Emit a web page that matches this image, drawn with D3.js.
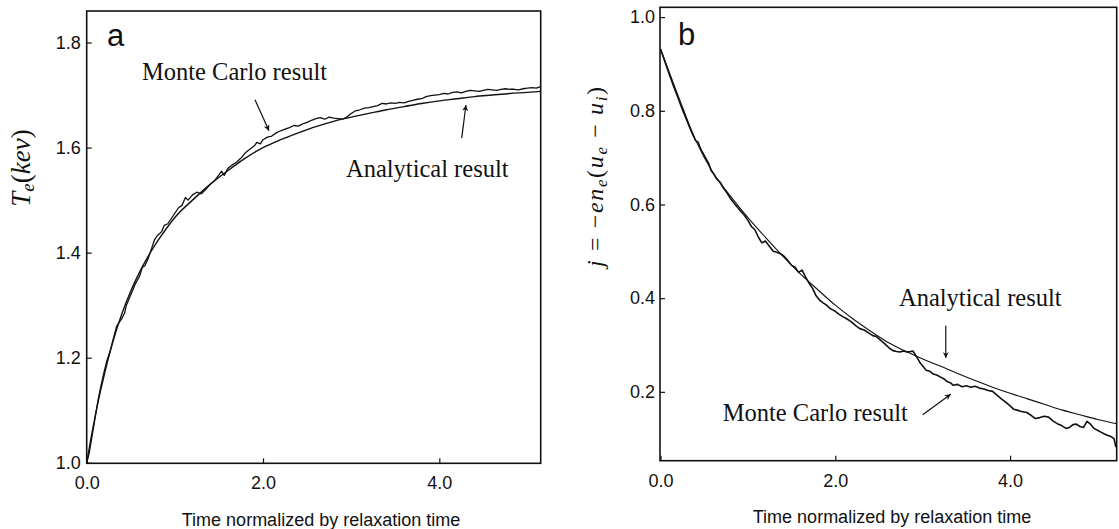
<!DOCTYPE html>
<html>
<head>
    <title>Monte Carlo vs analytical relaxation</title>
    <script src="https://d3js.org/d3.v7.min.js"></script>
    <style>
        body { margin: 0; background: #fff; }
        .frame { fill: none; stroke: #111; stroke-width: 1.6; }
        .curve { fill: none; stroke: #111; stroke-linejoin: round; }
        .tick line { stroke: #111; stroke-width: 1.2; }
        .tick text { fill: #111; font-family: "Liberation Sans", Arial, sans-serif; font-size: 18px; }
        .title { font-family: "Liberation Sans", Arial, sans-serif; font-size: 18px; fill: #111; }
        .note { font-family: "Liberation Serif", "Times New Roman", serif; font-size: 24.5px; fill: #111; }
        .math { font-family: "Liberation Serif", "Times New Roman", serif; fill: #111; }
        .panel { font-family: "Liberation Sans", Arial, sans-serif; font-size: 31px; fill: #111; }
    </style>
</head>
<body>
    <div id="chart"></div>
    <script>
        // ---- data: [time, value] ----
        const analyticA = [
            [0, 1.0], [0.05, 1.048], [0.1, 1.092], [0.15, 1.132], [0.2, 1.168], [0.3, 1.232],
            [0.4, 1.284], [0.5, 1.327], [0.6, 1.363], [0.7, 1.394], [0.8, 1.421], [0.9, 1.445],
            [1.0, 1.467], [1.2, 1.50], [1.4, 1.53], [1.6, 1.556], [1.8, 1.58], [2.0, 1.60],
            [2.2, 1.615], [2.4, 1.628], [2.6, 1.64], [2.8, 1.65], [3.0, 1.658], [3.2, 1.665],
            [3.4, 1.672], [3.6, 1.678], [3.8, 1.684], [4.0, 1.689], [4.2, 1.693], [4.4, 1.697],
            [4.6, 1.70], [4.8, 1.703], [5.0, 1.705], [5.15, 1.707]
        ];
        const monteCarloA = [
            [0, 1.0], [0.03, 1.02], [0.06, 1.05], [0.1, 1.09], [0.13, 1.12], [0.16, 1.145],
            [0.2, 1.175], [0.23, 1.195], [0.27, 1.215], [0.3, 1.235], [0.34, 1.26], [0.38, 1.27],
            [0.4, 1.275], [0.43, 1.285], [0.45, 1.30], [0.5, 1.32], [0.55, 1.34], [0.6, 1.355],
            [0.63, 1.372], [0.66, 1.375], [0.7, 1.39], [0.74, 1.41], [0.77, 1.425], [0.8, 1.432],
            [0.85, 1.44], [0.88, 1.452], [0.92, 1.455], [0.96, 1.465], [1.0, 1.475], [1.04, 1.485],
            [1.08, 1.49], [1.12, 1.505], [1.15, 1.50], [1.2, 1.51], [1.25, 1.515], [1.3, 1.512],
            [1.35, 1.52], [1.4, 1.53], [1.45, 1.537], [1.5, 1.548], [1.53, 1.555], [1.56, 1.547],
            [1.6, 1.56], [1.65, 1.567], [1.7, 1.572], [1.75, 1.58], [1.8, 1.59], [1.85, 1.597],
            [1.9, 1.603], [1.93, 1.61], [1.97, 1.607], [2.0, 1.615], [2.05, 1.62], [2.1, 1.622],
            [2.15, 1.628], [2.2, 1.632], [2.25, 1.635], [2.3, 1.638], [2.35, 1.642], [2.4, 1.641],
            [2.45, 1.645], [2.5, 1.648], [2.55, 1.652], [2.6, 1.655], [2.65, 1.657], [2.7, 1.654],
            [2.75, 1.658], [2.8, 1.656], [2.85, 1.655], [2.9, 1.654], [2.95, 1.658], [3.0, 1.665],
            [3.05, 1.67], [3.1, 1.672], [3.15, 1.675], [3.2, 1.676], [3.3, 1.68], [3.35, 1.684],
            [3.4, 1.683], [3.45, 1.685], [3.5, 1.684], [3.55, 1.686], [3.6, 1.685], [3.65, 1.688],
            [3.7, 1.69], [3.75, 1.692], [3.8, 1.693], [3.85, 1.697], [3.9, 1.699], [3.95, 1.70],
            [4.0, 1.701], [4.05, 1.703], [4.1, 1.702], [4.15, 1.705], [4.2, 1.706], [4.25, 1.704],
            [4.3, 1.707], [4.35, 1.709], [4.4, 1.708], [4.45, 1.707], [4.5, 1.709], [4.55, 1.711],
            [4.6, 1.71], [4.65, 1.709], [4.7, 1.711], [4.75, 1.712], [4.8, 1.711], [4.85, 1.711],
            [4.9, 1.71], [4.95, 1.712], [5.0, 1.713], [5.05, 1.714], [5.1, 1.713], [5.15, 1.716]
        ];
        const analyticB = [
            [0, 0.932], [0.2, 0.833], [0.4, 0.738], [0.6, 0.668], [0.8, 0.618], [1.0, 0.572],
            [1.2, 0.53], [1.4, 0.49], [1.6, 0.452], [1.8, 0.418], [2.0, 0.385], [2.2, 0.356],
            [2.4, 0.33], [2.6, 0.306], [2.8, 0.287], [3.0, 0.27], [3.2, 0.255], [3.4, 0.239],
            [3.6, 0.224], [3.8, 0.21], [4.0, 0.197], [4.2, 0.185], [4.4, 0.173], [4.6, 0.161],
            [4.8, 0.151], [5.0, 0.141], [5.22, 0.132]
        ];
        const monteCarloB = [
            [0, 0.932], [0.05, 0.905], [0.1, 0.878], [0.15, 0.852], [0.2, 0.828], [0.25, 0.803],
            [0.3, 0.78], [0.35, 0.757], [0.4, 0.737], [0.43, 0.733], [0.46, 0.718], [0.5, 0.705],
            [0.55, 0.688], [0.58, 0.672], [0.61, 0.665], [0.64, 0.655], [0.68, 0.648], [0.72, 0.635],
            [0.76, 0.625], [0.8, 0.613], [0.84, 0.603], [0.88, 0.594], [0.92, 0.585], [0.96, 0.577],
            [1.0, 0.566], [1.04, 0.553], [1.08, 0.546], [1.12, 0.53], [1.16, 0.518], [1.2, 0.522],
            [1.25, 0.51], [1.29, 0.5], [1.33, 0.498], [1.37, 0.495], [1.41, 0.49], [1.45, 0.482],
            [1.5, 0.47], [1.54, 0.466], [1.58, 0.455], [1.62, 0.46], [1.66, 0.445], [1.7, 0.432],
            [1.74, 0.421], [1.78, 0.405], [1.82, 0.396], [1.86, 0.39], [1.9, 0.385], [1.94, 0.378],
            [1.97, 0.375], [2.0, 0.372], [2.04, 0.366], [2.09, 0.36], [2.13, 0.356], [2.18, 0.35],
            [2.23, 0.342], [2.28, 0.335], [2.33, 0.332], [2.38, 0.326], [2.43, 0.32], [2.47, 0.318],
            [2.52, 0.31], [2.57, 0.302], [2.62, 0.293], [2.66, 0.288], [2.7, 0.286], [2.74, 0.285],
            [2.78, 0.287], [2.82, 0.285], [2.86, 0.286], [2.89, 0.287], [2.93, 0.275], [2.97, 0.262],
            [3.0, 0.255], [3.04, 0.246], [3.08, 0.244], [3.12, 0.238], [3.16, 0.236], [3.2, 0.232],
            [3.24, 0.228], [3.28, 0.222], [3.32, 0.219], [3.35, 0.214], [3.4, 0.216], [3.45, 0.211],
            [3.5, 0.213], [3.55, 0.21], [3.6, 0.212], [3.65, 0.208], [3.7, 0.206], [3.75, 0.203],
            [3.8, 0.201], [3.85, 0.193], [3.9, 0.185], [3.95, 0.178], [4.0, 0.17], [4.04, 0.163],
            [4.08, 0.161], [4.13, 0.158], [4.19, 0.156], [4.24, 0.15], [4.29, 0.143], [4.34, 0.145],
            [4.39, 0.148], [4.44, 0.146], [4.49, 0.138], [4.54, 0.132], [4.59, 0.128], [4.64, 0.122],
            [4.68, 0.124], [4.72, 0.13], [4.76, 0.131], [4.8, 0.126], [4.84, 0.124], [4.88, 0.137],
            [4.92, 0.131], [4.96, 0.122], [5.0, 0.118], [5.04, 0.114], [5.08, 0.11], [5.12, 0.107],
            [5.16, 0.104], [5.19, 0.10], [5.21, 0.082]
        ];

        const xTicks = [0, 2, 4];
        const yTicksA = [1.0, 1.2, 1.4, 1.6, 1.8];
        const yTicksB = [0.2, 0.4, 0.6, 0.8, 1.0];

        // annotations, in data units: text anchor + arrow from/to
        const notesA = [
            { text: "Monte Carlo result", at: [0.627, 1.729], from: [1.909, 1.691], to: [2.068, 1.632] },
            { text: "Analytical result", at: [2.941, 1.544], from: [4.254, 1.618], to: [4.302, 1.681] }
        ];
        const notesB = [
            { text: "Analytical result", at: [2.729, 0.383], from: [3.264, 0.341], to: [3.264, 0.272] },
            { text: "Monte Carlo result", at: [0.712, 0.138], from: [3.0, 0.151], to: [3.321, 0.195] }
        ];

        const width = 1119, height = 529;
        const svg = d3.select("#chart").append("svg")
            .attr("width", width).attr("height", height);

        svg.append("defs").append("marker")
            .attr("id", "head")
            .attr("viewBox", "0 0 10 10")
            .attr("refX", 10).attr("refY", 5)
            .attr("markerWidth", 8).attr("markerHeight", 6)
            .attr("markerUnits", "userSpaceOnUse")
            .attr("orient", "auto")
            .append("path").attr("d", "M0,0 L10,5 L0,10 L3,5 Z").attr("fill", "#111");

        function panel(opt) {
            const x = d3.scaleLinear().domain(opt.xDomain).range([opt.left, opt.right]);
            const y = d3.scaleLinear().domain(opt.yDomain).range([opt.bottom, opt.top]);
            const g = svg.append("g");

            const xAxis = g.append("g")
                .attr("transform", `translate(0,${opt.bottom})`)
                .call(d3.axisBottom(x).tickValues(xTicks).tickFormat(d3.format(".1f"))
                    .tickSizeInner(-5).tickSizeOuter(0).tickPadding(opt.xPad));
            const yAxis = g.append("g")
                .attr("transform", `translate(${opt.left},0)`)
                .call(d3.axisLeft(y).tickValues(opt.yTicks).tickFormat(d3.format(".1f"))
                    .tickSizeInner(-5).tickSizeOuter(0).tickPadding(opt.yPad));
            [xAxis, yAxis].forEach(a => {
                a.attr("font-size", null).attr("font-family", null);
                a.select(".domain").remove();
            });

            const smooth = d3.line().x(d => x(d[0])).y(d => y(d[1])).curve(d3.curveMonotoneX);
            const jagged = d3.line().x(d => x(d[0])).y(d => y(d[1]));
            g.append("path").datum(opt.analytic).attr("class", "curve")
                .attr("stroke-width", opt.analyticWidth)
                .attr("d", smooth);
            g.append("path").datum(opt.mc).attr("class", "curve")
                .attr("stroke-width", opt.mcWidth)
                .attr("d", jagged);

            g.append("rect").attr("class", "frame")
                .attr("x", opt.left).attr("y", opt.top)
                .attr("width", opt.right - opt.left).attr("height", opt.bottom - opt.top);

            g.append("text").attr("class", "panel")
                .attr("x", x(opt.tag.at[0])).attr("y", y(opt.tag.at[1]))
                .text(opt.tag.text);

            opt.notes.forEach(n => {
                g.append("text").attr("class", "note")
                    .attr("x", x(n.at[0])).attr("y", y(n.at[1]))
                    .text(n.text);
                g.append("line")
                    .attr("x1", x(n.from[0])).attr("y1", y(n.from[1]))
                    .attr("x2", x(n.to[0])).attr("y2", y(n.to[1]))
                    .attr("stroke", "#111").attr("stroke-width", 1.2)
                    .attr("marker-end", "url(#head)");
            });

            // x title
            g.append("text").attr("class", "title")
                .attr("x", opt.xTitleX).attr("y", opt.xTitleY)
                .attr("text-anchor", "middle")
                .text("Time normalized by relaxation time");

            // y title, rotated
            const yt = g.append("text").attr("class", "math")
                .attr("font-size", opt.yTitleSize + "px")
                .attr("transform", `translate(${opt.yTitleX},${opt.yTitleY}) rotate(-90)`)
                .attr("text-anchor", "middle");
            if (opt.yTitleLen) yt.attr("textLength", opt.yTitleLen).attr("lengthAdjust", "spacing");
            opt.yTitle.forEach(p => {
                const t = yt.append("tspan").text(p.t);
                if (p.it) t.attr("font-style", "italic");
                if (p.sub) t.attr("font-size", (opt.yTitleSize * 0.7) + "px").attr("baseline-shift", "-4");
            });
        }

        panel({
            left: 86.7, right: 540.7, top: 11, bottom: 463.3,
            xDomain: [0, 5.15], yDomain: [0.999, 1.86],
            yTicks: yTicksA, xPad: 13, yPad: 6,
            analytic: analyticA, mc: monteCarloA, notes: notesA,
            analyticWidth: 1.4, mcWidth: 1.3,
            tag: { text: "a", at: [0.23, 1.793] },
            xTitleX: 321, xTitleY: 526,
            yTitleX: 30, yTitleY: 168, yTitleSize: 27, yTitleLen: null,
            yTitle: [
                { t: "T", it: true }, { t: "e", it: true, sub: true },
                { t: "(" }, { t: "kev", it: true }, { t: ")" }
            ]
        });

        panel({
            left: 660, right: 1116.7, top: 7.3, bottom: 460.7,
            xDomain: [-0.006, 5.22], yDomain: [0.053, 1.021],
            yTicks: yTicksB, xPad: 14, yPad: 5,
            analytic: analyticB, mc: monteCarloB, notes: notesB,
            analyticWidth: 1.1, mcWidth: 1.6,
            tag: { text: "b", at: [0.2, 0.941] },
            xTitleX: 892, xTitleY: 523,
            yTitleX: 603, yTitleY: 177, yTitleSize: 24, yTitleLen: 180,
            yTitle: [
                { t: "j", it: true }, { t: " = \u2212" }, { t: "en", it: true },
                { t: "e", it: true, sub: true }, { t: "(" }, { t: "u", it: true },
                { t: "e", it: true, sub: true }, { t: " \u2212 " }, { t: "u", it: true },
                { t: "i", it: true, sub: true }, { t: ")" }
            ]
        });
    </script>
</body>
</html>
